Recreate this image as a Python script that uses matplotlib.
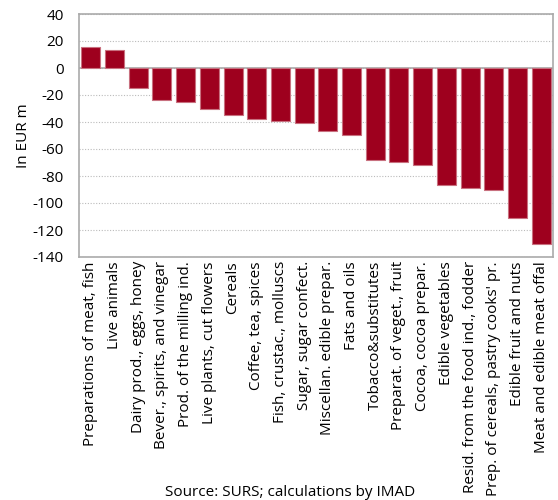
import matplotlib
matplotlib.use("Agg")
import matplotlib.pyplot as plt

categories = [
    "Preparations of meat, fish",
    "Live animals",
    "Dairy prod., eggs, honey",
    "Bever., spirits, and vinegar",
    "Prod. of the milling ind.",
    "Live plants, cut flowers",
    "Cereals",
    "Coffee, tea, spices",
    "Fish, crustac., molluscs",
    "Sugar, sugar confect.",
    "Miscellan. edible prepar.",
    "Fats and oils",
    "Tobacco&substitutes",
    "Preparat. of veget., fruit",
    "Cocoa, cocoa prepar.",
    "Edible vegetables",
    "Resid. from the food ind., fodder",
    "Prep. of cereals, pastry cooks' pr.",
    "Edible fruit and nuts",
    "Meat and edible meat offal",
]
values = [15.7, 13.5, -14.7, -24.0, -25.5, -30.5, -34.7, -38.1, -39.4, -41.1,
          -46.3, -49.3, -68.1, -69.8, -72.0, -86.4, -88.6, -90.4, -110.8, -130.6]
yticks = list(range(-140, 41, 20))

plt.rcParams["font.family"] = ["Open Sans", "DejaVu Sans"]

fig = plt.figure(figsize=(5.58, 5.0), dpi=100)
ax = fig.add_axes([0.1416, 0.486, 0.8494, 0.486])

x = range(len(categories))
ax.bar(x, values, width=0.8, color="#9E001E", edgecolor="#C8707F", linewidth=0.8, zorder=3)

ax.set_xlim(-0.5, len(categories) - 0.5)
ax.set_ylim(-140, 40)
ax.set_yticks(yticks)
ax.set_yticklabels([str(v) for v in yticks], fontsize=11)
ax.set_xticks(list(x))
ax.set_xticklabels(categories, rotation=90, fontsize=11)
ax.tick_params(axis="x", length=0, pad=3)
ax.tick_params(axis="y", length=0, pad=11)

ax.yaxis.grid(True, linestyle=(0, (1, 1.5)), color="#BBBBBB", linewidth=0.8, zorder=0)
ax.axhline(0, color="#AAAAAA", linewidth=1.2, zorder=2)
for s in ax.spines.values():
    s.set_color("#AAAAAA")
    s.set_linewidth(1.2)

ax.set_ylabel("In EUR m", fontsize=11, labelpad=1)

fig.text(0.52, 0.0, "Source: SURS; calculations by IMAD", ha="center", va="bottom", fontsize=11)

fig.savefig("out.png", dpi=100)
